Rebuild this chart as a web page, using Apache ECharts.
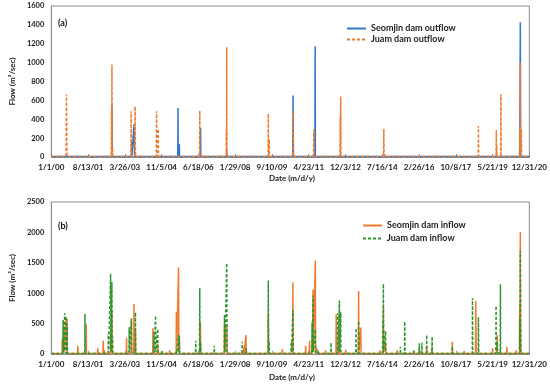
<!DOCTYPE html>
<html>
<head>
<meta charset="utf-8">
<script src="https://cdn.jsdelivr.net/npm/echarts@6/dist/echarts.min.js"></script>
<style>html,body{margin:0;padding:0;background:#fff}#c{width:550px;height:385px}</style>
</head>
<body>
<div id="c"></div>
<script>
// ---- data ----
const axisStart = "2000-01-01";
const axisEnd = "2020-12-31";
const tickStepDays = 590;
const yTicksA = [0, 200, 400, 600, 800, 1000, 1200, 1400, 1600];
const yTicksB = [0, 500, 1000, 1500, 2000, 2500];

const seomjinOutflow = [
 ["2000-01-01",5],
 ["2002-08-28",5],["2002-09-01",550],["2002-09-04",60],["2002-09-08",5],
 ["2003-07-10",5],["2003-07-13",158],["2003-07-16",5],
 ["2003-08-17",5],["2003-08-20",345],["2003-08-24",158],["2003-08-28",5],
 ["2005-07-22",5],["2005-07-26",518],["2005-07-29",5],["2005-08-13",5],["2005-08-16",137],["2005-08-20",5],
 ["2006-07-20",5],["2006-07-24",310],["2006-07-27",5],
 ["2007-09-12",5],["2007-09-16",74],["2007-09-19",5],
 ["2010-08-10",5],["2010-08-14",652],["2010-08-17",296],["2010-08-20",5],
 ["2011-07-30",5],["2011-08-01",338],["2011-08-05",1173],["2011-08-08",5],
 ["2020-07-28",5],["2020-08-01",300],["2020-08-08",1427],["2020-08-11",462],["2020-08-15",5],
 ["2020-12-31",5]
];

const juamOutflow = [
 ["2000-01-01",5],
 ["2000-08-24",5],["2000-08-28",363],["2000-09-01",663],["2000-09-05",363],["2000-09-09",5],
 ["2002-08-20",5],["2002-08-23",520],["2002-08-27",5],["2002-08-31",980],["2002-09-04",5],["2002-09-10",100],["2002-09-14",5],
 ["2003-07-01",5],["2003-07-05",486],["2003-07-09",5],["2003-09-02",5],["2003-09-06",536],["2003-09-10",300],["2003-09-14",5],
 ["2004-08-12",5],["2004-08-16",486],["2004-08-20",160],["2004-08-24",5],["2004-09-07",5],["2004-09-11",296],["2004-09-15",5],
 ["2006-07-06",5],["2006-07-10",490],["2006-07-14",5],
 ["2007-09-06",5],["2007-09-10",300],["2007-09-13",5],["2007-09-16",1163],["2007-09-19",5],
 ["2008-03-01",5],["2008-03-05",15],["2008-03-09",5],
 ["2009-07-10",5],["2009-07-14",458],["2009-07-18",5],["2009-07-24",5],["2009-07-28",187],["2009-08-02",5],
 ["2010-08-11",5],["2010-08-15",490],["2010-08-18",300],["2010-08-22",5],
 ["2011-07-08",5],["2011-07-12",250],["2011-07-15",293],["2011-07-19",5],
 ["2012-04-28",5],["2012-05-03",25],["2012-05-08",5],
 ["2012-09-06",5],["2012-09-10",426],["2012-09-13",5],["2012-09-17",641],["2012-09-21",5],
 ["2014-08-06",5],["2014-08-10",296],["2014-08-14",5],["2014-08-22",32],["2014-08-27",5],
 ["2018-10-02",5],["2018-10-06",328],["2018-10-10",5],
 ["2019-07-16",5],["2019-07-20",285],["2019-07-23",5],["2019-07-26",124],["2019-07-30",5],
 ["2019-09-28",5],["2019-10-02",666],["2019-10-06",5],
 ["2020-04-15",5],["2020-04-19",25],["2020-04-23",5],
 ["2020-07-28",5],["2020-08-01",285],["2020-08-05",5],["2020-08-08",997],["2020-08-12",451],["2020-08-16",5],["2020-08-21",5],["2020-08-25",300],["2020-08-29",5],
 ["2020-12-31",5]
];

const seomjinInflow = [
 ["2000-01-01",10],
 ["2000-06-20",10],["2000-06-24",242],["2000-06-28",20],["2000-07-15",20],["2000-07-19",420],["2000-07-23",30],["2000-08-24",30],["2000-08-28",600],["2000-09-02",80],["2000-09-09",580],["2000-09-13",10],
 ["2001-02-26",10],["2001-03-02",137],["2001-03-06",10],
 ["2001-07-10",10],["2001-07-14",494],["2001-07-18",10],
 ["2002-01-12",10],["2002-01-16",94],["2002-01-20",10],
 ["2002-04-09",10],["2002-04-13",219],["2002-04-17",10],["2002-04-25",10],["2002-04-29",70],["2002-05-03",10],
 ["2002-08-06",10],["2002-08-10",300],["2002-08-14",20],["2002-08-27",10],["2002-08-31",714],["2002-09-04",10],
 ["2003-02-17",10],["2003-02-21",40],["2003-02-25",10],
 ["2003-04-19",10],["2003-04-23",269],["2003-04-27",10],
 ["2003-07-05",10],["2003-07-09",570],["2003-07-13",30],["2003-08-16",30],["2003-08-20",824],["2003-08-24",60],["2003-09-08",10],["2003-09-12",385],["2003-09-16",10],
 ["2004-02-22",10],["2004-02-26",30],["2004-03-01",10],
 ["2004-06-15",10],["2004-06-19",423],["2004-06-23",10],["2004-08-30",10],["2004-09-03",170],["2004-09-07",10],
 ["2005-03-10",10],["2005-03-14",60],["2005-03-18",10],
 ["2005-06-26",10],["2005-06-30",687],["2005-07-04",30],["2005-07-31",30],["2005-08-04",1422],["2005-08-08",40],["2005-08-16",297],["2005-08-20",10],
 ["2005-11-28",10],["2005-12-02",20],["2005-12-06",10],
 ["2006-02-12",10],["2006-02-16",40],["2006-02-20",10],
 ["2006-07-17",10],["2006-07-21",516],["2006-07-25",10],
 ["2007-02-08",10],["2007-02-12",40],["2007-02-16",10],
 ["2007-08-07",10],["2007-08-11",490],["2007-08-15",30],["2007-09-12",10],["2007-09-16",490],["2007-09-20",10],
 ["2008-02-13",10],["2008-02-17",30],["2008-02-21",10],
 ["2008-06-11",10],["2008-06-15",120],["2008-06-19",10],["2008-07-16",10],["2008-07-20",313],["2008-07-24",10],
 ["2009-04-16",10],["2009-04-20",40],["2009-04-24",10],
 ["2009-07-10",10],["2009-07-14",671],["2009-07-18",10],
 ["2010-02-19",10],["2010-02-23",82],["2010-02-27",10],
 ["2010-08-08",10],["2010-08-12",1181],["2010-08-16",10],
 ["2011-03-01",10],["2011-03-05",137],["2011-03-09",10],["2011-05-02",10],["2011-05-06",219],["2011-05-10",10],
 ["2011-06-12",10],["2011-06-16",250],["2011-06-20",20],["2011-06-28",10],["2011-07-02",1055],["2011-07-06",40],["2011-08-03",10],["2011-08-07",1538],["2011-08-11",30],["2011-08-26",10],["2011-08-30",100],["2011-09-03",10],
 ["2012-01-16",10],["2012-01-20",60],["2012-01-24",10],
 ["2012-07-03",10],["2012-07-07",655],["2012-07-11",20],["2012-08-24",10],["2012-08-28",400],["2012-09-01",10],
 ["2012-12-04",10],["2012-12-08",70],["2012-12-12",10],
 ["2013-06-28",10],["2013-07-02",1038],["2013-07-06",30],["2013-08-02",10],["2013-08-06",434],["2013-08-10",10],
 ["2013-12-11",10],["2013-12-15",40],["2013-12-19",10],["2014-06-06",10],["2014-06-10",60],["2014-06-14",10],
 ["2014-07-30",10],["2014-08-03",780],["2014-08-07",30],["2014-09-03",10],["2014-09-07",200],["2014-09-11",10],
 ["2015-03-08",10],["2015-03-12",60],["2015-03-16",10],["2015-08-06",10],["2015-08-10",40],["2015-08-14",10],
 ["2016-02-26",10],["2016-03-01",94],["2016-03-05",10],["2016-06-23",10],["2016-06-27",120],["2016-07-01",10],["2016-09-18",10],["2016-09-22",120],["2016-09-26",10],
 ["2017-04-16",10],["2017-04-20",40],["2017-04-24",10],
 ["2017-08-09",10],["2017-08-13",203],["2017-08-17",10],
 ["2018-02-16",10],["2018-02-20",50],["2018-02-24",10],
 ["2018-08-20",10],["2018-08-24",873],["2018-08-28",420],["2018-09-01",10],
 ["2019-05-16",10],["2019-05-20",100],["2019-05-24",10],["2019-07-31",10],["2019-08-04",313],["2019-08-08",10],
 ["2020-01-01",10],["2020-01-05",120],["2020-01-09",10],["2020-05-30",10],["2020-06-03",60],["2020-06-07",10],
 ["2020-07-26",10],["2020-07-30",824],["2020-08-03",40],["2020-08-08",2005],["2020-08-12",600],["2020-08-16",10],
 ["2020-12-31",10]
];

const juamInflow = [
 ["2000-01-01",8],
 ["2000-07-05",8],["2000-07-09",560],["2000-07-13",30],["2000-07-30",30],["2000-08-03",670],["2000-08-08",60],["2000-08-19",8],["2000-08-23",620],["2000-08-27",60],["2000-09-08",8],["2000-09-12",500],["2000-09-16",8],
 ["2001-06-20",8],["2001-06-24",659],["2001-06-28",8],
 ["2002-07-01",8],["2002-07-05",351],["2002-07-09",20],["2002-08-06",20],["2002-08-10",1318],["2002-08-14",40],["2002-08-27",8],["2002-08-31",1181],["2002-09-04",40],["2002-09-12",283],["2002-09-16",8],
 ["2003-05-31",8],["2003-06-04",440],["2003-06-08",20],["2003-07-06",8],["2003-07-10",588],["2003-07-14",30],["2003-09-08",8],["2003-09-12",687],["2003-09-16",8],
 ["2004-07-01",8],["2004-07-05",368],["2004-07-09",20],["2004-07-27",8],["2004-07-31",631],["2004-08-04",30],["2004-08-31",8],["2004-09-04",412],["2004-09-08",8],
 ["2004-11-07",8],["2004-11-11",50],["2004-11-15",8],
 ["2005-06-27",8],["2005-07-01",60],["2005-07-05",8],["2005-07-31",8],["2005-08-04",313],["2005-08-08",30],["2005-08-16",297],["2005-08-20",8],
 ["2006-05-02",8],["2006-05-06",219],["2006-05-10",8],
 ["2006-07-06",8],["2006-07-10",1083],["2006-07-14",30],["2006-07-21",8],["2006-07-25",175],["2006-07-29",8],
 ["2007-02-24",8],["2007-02-28",137],["2007-03-04",8],
 ["2007-08-07",8],["2007-08-11",643],["2007-08-15",30],["2007-09-12",8],["2007-09-16",1494],["2007-09-20",8],
 ["2008-05-17",8],["2008-05-21",203],["2008-05-25",8],["2008-07-21",8],["2008-07-25",100],["2008-07-29",8],
 ["2009-07-10",8],["2009-07-14",1208],["2009-07-18",30],["2009-07-24",8],["2009-07-28",200],["2009-08-01",8],
 ["2010-07-13",8],["2010-07-17",200],["2010-07-21",30],["2010-08-08",8],["2010-08-12",725],["2010-08-15",655],["2010-08-19",8],
 ["2011-06-12",8],["2011-06-16",516],["2011-06-20",30],["2011-06-28",8],["2011-07-02",962],["2011-07-06",40],["2011-08-03",8],["2011-08-07",400],["2011-08-11",20],["2011-09-16",8],["2011-09-20",60],["2011-09-24",8],
 ["2012-04-12",8],["2012-04-16",186],["2012-04-20",8],
 ["2012-07-28",8],["2012-08-01",671],["2012-08-05",30],["2012-08-24",8],["2012-08-28",878],["2012-09-01",40],["2012-09-13",8],["2012-09-17",687],["2012-09-21",8],
 ["2013-05-18",8],["2013-05-22",423],["2013-05-26",8],["2013-06-28",8],["2013-07-02",544],["2013-07-06",8],
 ["2014-07-20",8],["2014-07-24",522],["2014-07-28",30],["2014-08-03",1154],["2014-08-07",40],["2014-09-03",8],["2014-09-07",379],["2014-09-11",8],
 ["2015-04-29",8],["2015-05-03",120],["2015-05-07",8],["2015-07-08",8],["2015-07-12",532],["2015-07-16",8],
 ["2015-12-01",8],["2015-12-05",70],["2015-12-09",8],
 ["2016-02-27",8],["2016-03-02",176],["2016-03-06",8],["2016-04-08",8],["2016-04-12",186],["2016-04-16",8],["2016-06-24",8],["2016-06-28",313],["2016-07-02",8],["2016-09-19",8],["2016-09-23",285],["2016-09-27",8],
 ["2017-08-09",8],["2017-08-13",130],["2017-08-17",8],
 ["2018-06-29",8],["2018-07-03",918],["2018-07-07",8],["2018-10-02",8],["2018-10-06",605],["2018-10-10",8],
 ["2019-07-12",8],["2019-07-16",791],["2019-07-20",40],["2019-07-31",8],["2019-08-04",200],["2019-08-08",20],["2019-09-20",8],["2019-09-24",1149],["2019-09-28",8],
 ["2020-07-26",8],["2020-07-30",580],["2020-08-03",60],["2020-08-08",1697],["2020-08-12",599],["2020-08-16",8],
 ["2020-12-31",8]
];

// ---- helpers ----
const DAY = 86400000;
const base = Date.UTC(2000, 0, 1);
function dayIndex(s){ const p = s.split('-').map(Number); return (Date.UTC(p[0], p[1]-1, p[2]) - base) / DAY; }
function fmtDay(v){ const d = new Date(base + v*DAY); return (d.getUTCMonth()+1) + '/' + d.getUTCDate() + '/' + String(d.getUTCFullYear()%100).padStart(2,'0'); }
const toXY = arr => arr.map(([d,v]) => [dayIndex(d), v]);

const FONT = 'Lato, "Open Sans", sans-serif';
const cBlue = '#2F78CC', cOrange = '#F07A2E', cGreen = '#2E952E';

function xAxis(grid){
  return {
    type:'value', gridIndex:grid, min:dayIndex(axisStart), max:dayIndex(axisEnd), interval:tickStepDays,
    axisLine:{show:true, onZero:false, lineStyle:{color:'#8c8c8c', width:1}},
    axisTick:{show:true, inside:true, length:3, lineStyle:{color:'#8c8c8c'}},
    splitLine:{show:false},
    axisLabel:{formatter:fmtDay, fontFamily:FONT, fontSize:8, color:'#222', fontWeight:'bold', margin:6, showMinLabel:true, showMaxLabel:true}
  };
}
function yAxis(grid, ticks){
  return {
    type:'value', gridIndex:grid, min:ticks[0], max:ticks[ticks.length-1], interval:ticks[1]-ticks[0],
    name:'Flow (m³/sec)', nameLocation:'middle', nameRotate:90, nameGap:26,
    nameTextStyle:{fontFamily:FONT, fontSize:8, fontWeight:'bold', color:'#222'},
    axisLine:{show:true, lineStyle:{color:'#8c8c8c'}},
    axisTick:{show:false}, splitLine:{show:false},
    axisLabel:{formatter:v => String(v), fontFamily:FONT, fontSize:7.5, color:'#222', fontWeight:'bold', margin:7}
  };
}

const legendCommon = {orient:'vertical', itemWidth:19, itemHeight:9,
  itemStyle:{opacity:0}, textStyle:{fontFamily:FONT, fontSize:9, fontWeight:'bold', color:'#222'}};

const chart = echarts.init(document.getElementById('c'), null, {renderer:'canvas'});
chart.setOption({
  animation:false,
  backgroundColor:'#fff',
  grid:[
    {left:41, right:20, top:6, height:151, show:true, borderColor:'#8c8c8c', borderWidth:1},
    {left:37, right:17, top:202, height:152, show:true, borderColor:'#8c8c8c', borderWidth:1}
  ],
  xAxis:[xAxis(0), xAxis(1)],
  yAxis:[yAxis(0, yTicksA), yAxis(1, yTicksB)],
  legend:[
    Object.assign({data:['Seomjin dam outflow','Juam dam outflow'], left:341, top:19, itemGap:2}, legendCommon),
    Object.assign({data:['Seomjin dam inflow','Juam dam inflow'], left:357, top:216, itemGap:4}, legendCommon)
  ],
  graphic:[
    {type:'text', left:58, top:19, style:{text:'(a)', font:'bold 9px '+FONT, fill:'#111'}},
    {type:'text', left:58, top:222, style:{text:'(b)', font:'bold 9px '+FONT, fill:'#111'}},
    {type:'text', x:292, y:178, style:{text:'Date (m/d/y)', font:'bold 8px '+FONT, fill:'#222', align:'center', verticalAlign:'middle'}},
    {type:'text', x:292, y:377, style:{text:'Date (m/d/y)', font:'bold 8px '+FONT, fill:'#222', align:'center', verticalAlign:'middle'}}
  ],
  series:[
    {name:'Seomjin dam outflow', type:'line', xAxisIndex:0, yAxisIndex:0, data:toXY(seomjinOutflow), symbol:'none',
     lineStyle:{color:cBlue, width:1.5}, itemStyle:{color:cBlue}, z:2},
    {name:'Juam dam outflow', type:'line', xAxisIndex:0, yAxisIndex:0, data:toXY(juamOutflow), symbol:'none',
     lineStyle:{color:cOrange, width:1.5, type:[3,2]}, itemStyle:{color:cOrange}, z:3},
    {name:'Seomjin dam inflow', type:'line', xAxisIndex:1, yAxisIndex:1, data:toXY(seomjinInflow), symbol:'none',
     lineStyle:{color:cOrange, width:1.5}, itemStyle:{color:cOrange}, z:2},
    {name:'Juam dam inflow', type:'line', xAxisIndex:1, yAxisIndex:1, data:toXY(juamInflow), symbol:'none',
     lineStyle:{color:cGreen, width:1.5, type:[3,2]}, itemStyle:{color:cGreen}, z:3}
  ]
});
</script>
</body>
</html>
